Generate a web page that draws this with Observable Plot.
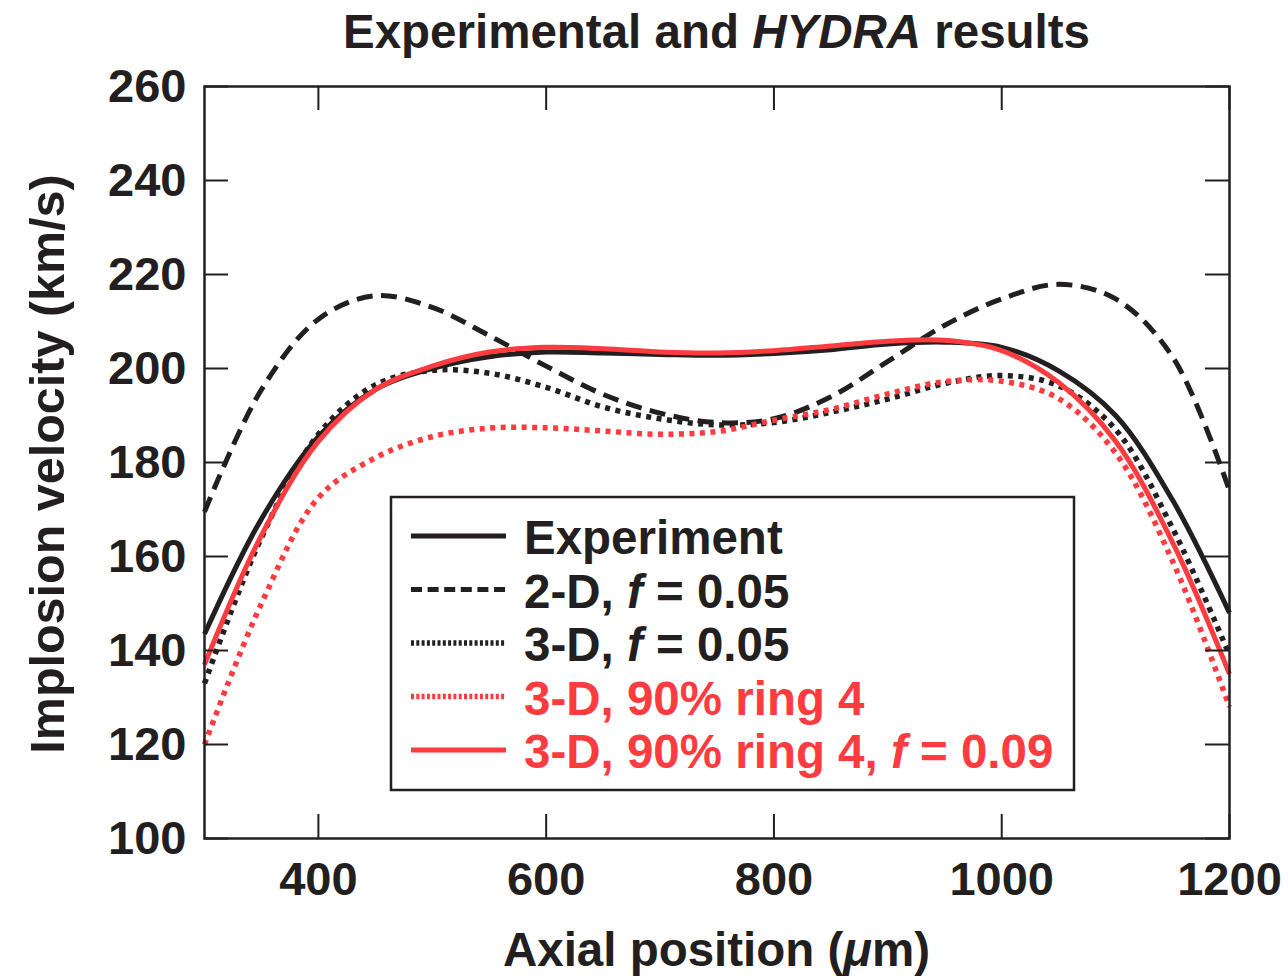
<!DOCTYPE html>
<html><head><meta charset="utf-8">
<script src="https://cdn.jsdelivr.net/npm/d3@7"></script>
<script src="https://cdn.jsdelivr.net/npm/@observablehq/plot@0.6"></script>
<style>body{margin:0;background:#fff} svg{display:block}</style>
</head><body><div id="chart"></div>
<script>
// ---- data ----
const axialPosition = [300,350,400,450,500,550,600,650,700,750,800,850,900,950,1000,1050,1100,1150,1200];
const experiment        = [143.5,168,185.5,195.5,200,202.5,203.5,203.3,203,202.8,203.2,204,205.2,205.6,204.5,199.5,190,172,148];
const twoD_f005         = [169.5,195.5,210.5,215.5,213,207,200.5,194.5,190.5,188.5,189.3,194,201.5,209.2,214.8,217.9,214.8,202.5,174];
const threeD_f005       = [133,164,186,196.5,199.6,199,196,191.8,189.3,188,188.5,190.7,193.5,196.8,198.5,196.3,187,166,139];
const threeD_ring4      = [120,150,172.5,181,185.5,187.3,187.4,186.7,186,186.6,189,191.3,194.6,197.2,197.3,193.6,182,159,128];
const threeD_ring4_f009 = [137,164.5,184.5,195.5,200.5,203.5,204.5,204.2,203.5,203.3,203.8,204.8,205.8,206,203.8,197,184.5,163,135];
const xTicks = [400,600,800,1000,1200];
const yTicks = [100,120,140,160,180,200,220,240,260];
const seriesNames = ["Experiment","2-D, f = 0.05","3-D, f = 0.05","3-D, 90% ring 4","3-D, 90% ring 4, f = 0.09"];

// ---- styles ----
const ink = "#231f20", red = "#fe3b3f";
const W = 1288, H = 978, mL = 204, mR = 59, mT = 86, mB = 140;
const plotW = W - mL - mR, plotH = H - mT - mB, tickLen = 24;
const font = "'Liberation Sans', Arial, Helvetica, sans-serif";

const seriesStyles = [
  {values: experiment,        stroke: ink, width: 5,   dash: null,       legendDash: null},
  {values: twoD_f005,         stroke: ink, width: 5,   dash: "16,8.5",   legendDash: "11,5.6"},
  {values: threeD_f005,       stroke: ink, width: 5.5, dash: "5,5.5",    legendDash: "3,2.3"},
  {values: threeD_ring4,      stroke: red, width: 5.5, dash: "5,5.5",    legendDash: "3,2.3"},
  {values: threeD_ring4_f009, stroke: red, width: 5,   dash: null,       legendDash: null}
];

const lineMarks = seriesStyles.map(s => Plot.line(axialPosition, {
  x: d => d, y: (d, i) => s.values[i], curve: "catmull-rom",
  stroke: s.stroke, strokeWidth: s.width, strokeDasharray: s.dash, strokeLinecap: "butt"
}));

const chart = Plot.plot({
  width: W, height: H,
  marginLeft: mL, marginRight: mR, marginTop: mT, marginBottom: mB,
  x: {domain: [300, 1200]},
  y: {domain: [100, 260]},
  style: {fontFamily: font, fontSize: "47px", fontWeight: "bold", color: ink, background: "white", overflow: "visible"},
  marks: [
    ...lineMarks,
    Plot.tickX(xTicks, {x: d => d, insetTop: plotH - tickLen, stroke: ink, strokeWidth: 2}),
    Plot.tickX(xTicks, {x: d => d, insetBottom: plotH - tickLen, stroke: ink, strokeWidth: 2}),
    Plot.tickY(yTicks, {y: d => d, insetRight: plotW - tickLen, stroke: ink, strokeWidth: 2}),
    Plot.tickY(yTicks, {y: d => d, insetLeft: plotW - tickLen, stroke: ink, strokeWidth: 2}),
    Plot.frame({stroke: ink, strokeWidth: 2.5}),
    Plot.axisX(xTicks, {tickSize: 0, tickPadding: 23, tickFormat: d => String(d), label: null}),
    Plot.axisY(yTicks, {tickSize: 0, tickPadding: 18, tickFormat: d => String(d), label: null})
  ]
});
document.getElementById("chart").appendChild(chart);

// ---- title, axis labels, legend ----
const svg = d3.select(chart);
const cx = (mL + (W - mR)) / 2, cy = (mT + (H - mB)) / 2;
function richText(x, y, parts, color, anchor, size) {
  const t = svg.append("text").attr("x", x).attr("y", y)
    .attr("text-anchor", anchor).attr("fill", color)
    .style("font-family", font).style("font-size", (size || 47) + "px").style("font-weight", "bold");
  parts.forEach(p => t.append("tspan").text(p.t).style("font-style", p.i ? "italic" : "normal"));
  return t;
}
richText(cx, 48, [{t: "Experimental and "}, {t: "HYDRA", i: true}, {t: " results"}], ink, "middle", 47.5);
richText(cx, 966, [{t: "Axial position ("}, {t: "\u03bc", i: true}, {t: "m)"}], ink, "middle", 47.5);
richText(0, 0, [{t: "Implosion velocity (km/s)"}], ink, "middle", 48.5)
  .attr("transform", `translate(64,${cy + 2}) rotate(-90)`);

// legend
const lgX = 391, lgY = 497, lgW = 683, lgH = 293;
const lg = svg.append("g");
lg.append("rect").attr("x", lgX).attr("y", lgY).attr("width", lgW).attr("height", lgH)
  .attr("fill", "white").attr("stroke", ink).attr("stroke-width", 2.5);
const legendParts = [
  [{t: "Experiment"}],
  [{t: "2-D, "}, {t: "f", i: true}, {t: " = 0.05"}],
  [{t: "3-D, "}, {t: "f", i: true}, {t: " = 0.05"}],
  [{t: "3-D, 90% ring 4"}],
  [{t: "3-D, 90% ring 4, "}, {t: "f", i: true}, {t: " = 0.09"}]
];
seriesStyles.forEach((s, k) => {
  const base = 554 + k * 53.5;
  const ly = base - 18;
  lg.append("line").attr("x1", 411).attr("x2", 506).attr("y1", ly).attr("y2", ly)
    .attr("stroke", s.stroke).attr("stroke-width", s.width)
    .attr("stroke-dasharray", s.legendDash);
  const t = richText(524, base, legendParts[k], s.stroke, "start", 47.5);
  t.attr("aria-label", seriesNames[k]);
});
</script>
</body></html>
